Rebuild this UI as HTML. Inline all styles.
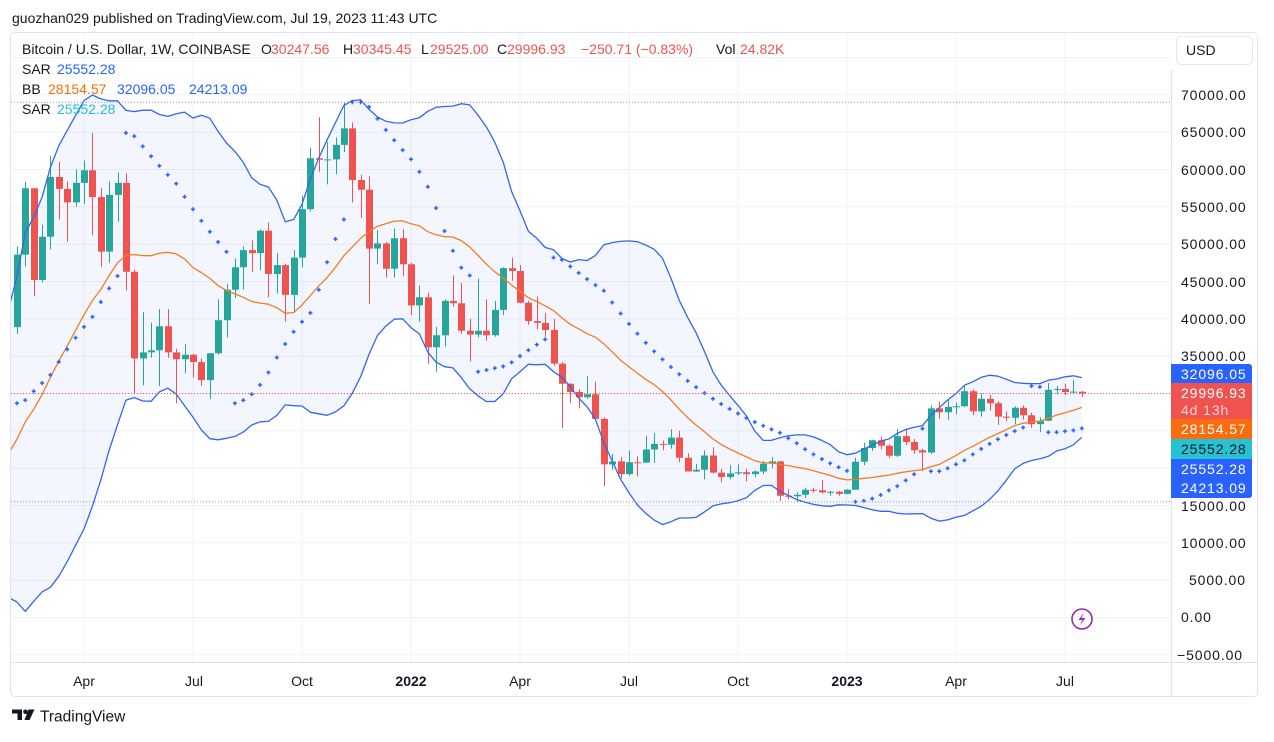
<!DOCTYPE html>
<html><head><meta charset="utf-8">
<style>
html,body{margin:0;padding:0;background:#fff;}
svg{display:block;font-family:"Liberation Sans",Arial,sans-serif;}
.pl{font-size:14px;fill:#131722;letter-spacing:0.9px;}
.tl{font-size:14px;fill:#131722;text-anchor:middle;}
.lg{font-size:14px;fill:#131722;}
.lb{font-size:14px;fill:#ffffff;letter-spacing:0.9px;}
</style></head>
<body>
<svg id="s" width="1274" height="742" viewBox="0 0 1274 742" xmlns="http://www.w3.org/2000/svg">
<rect width="1274" height="742" fill="#fff"/>
<text x="12" y="23" class="lg">guozhan029 published on TradingView.com, Jul 19, 2023 11:43 UTC</text>
<rect x="10.5" y="32.5" width="1247" height="664" rx="4" fill="none" stroke="#e0e3eb"/>
<g stroke="#eff1f5" stroke-width="1">
<path d="M11 57.5H1171M11 94.8H1171M11 132.2H1171M11 169.5H1171M11 206.8H1171M11 244.2H1171M11 281.5H1171M11 318.8H1171M11 356.2H1171M11 393.5H1171M11 430.8H1171M11 468.2H1171M11 505.5H1171M11 542.8H1171M11 580.2H1171M11 617.5H1171M11 654.8H1171"/>
<path d="M84 33V662M193 33V662M302 33V662M411 33V662M520 33V662M629 33V662M738 33V662M847 33V662M956 33V662M1065 33V662"/>
</g>
<clipPath id="c"><rect x="11" y="33" width="1160" height="629"/></clipPath>
<g clip-path="url(#c)">
<g id="fill"></g>
<g id="cand"></g>
<g id="ind"></g>
<g id="sar"></g>
</g>
<!-- dotted lines -->
<line x1="11" y1="102.3" x2="1171" y2="102.3" stroke="#9598a1" stroke-width="1" stroke-dasharray="1,2"/>
<line x1="11" y1="501.9" x2="1171" y2="501.9" stroke="#9598a1" stroke-width="1" stroke-dasharray="1,2"/>
<line x1="11" y1="393.5" x2="1171" y2="393.5" stroke="#ef5350" stroke-width="1" stroke-dasharray="1,2"/>
<!-- axes -->
<line x1="1171.5" y1="70" x2="1171.5" y2="697" stroke="#e0e3eb"/>
<line x1="11" y1="662.5" x2="1257" y2="662.5" stroke="#e0e3eb"/>
<!-- legend -->
<text y="54" class="lg"><tspan x="22">Bitcoin / U.S. Dollar, 1W, COINBASE</tspan><tspan x="261">O</tspan><tspan x="271" fill="#ef5350">30247.56</tspan><tspan x="343">H</tspan><tspan x="353" fill="#ef5350">30345.45</tspan><tspan x="421">L</tspan><tspan x="430" fill="#ef5350">29525.00</tspan><tspan x="497">C</tspan><tspan x="507" fill="#ef5350">29996.93</tspan><tspan x="581" fill="#ef5350">−250.71 (−0.83%)</tspan><tspan x="716">Vol</tspan><tspan x="740" fill="#ef5350">24.82K</tspan></text>
<text y="74" class="lg"><tspan x="22">SAR</tspan><tspan x="57" fill="#2962ff">25552.28</tspan></text>
<text y="94" class="lg"><tspan x="22">BB</tspan><tspan x="48" fill="#f57000">28154.57</tspan><tspan x="117" fill="#2962ff">32096.05</tspan><tspan x="189" fill="#2962ff">24213.09</tspan></text>
<text y="114" class="lg"><tspan x="22">SAR</tspan><tspan x="57" fill="#22c0d3">25552.28</tspan></text>
<!-- USD button -->
<rect x="1176.5" y="36.5" width="76" height="28" rx="5" fill="#fff" stroke="#e6e8ee"/>
<text x="1186" y="55" class="lg">USD</text>
<!-- price labels -->
<g class="pl">
<text x="1181" y="100">70000.00</text>
<text x="1181" y="137">65000.00</text>
<text x="1181" y="175">60000.00</text>
<text x="1181" y="212">55000.00</text>
<text x="1181" y="249">50000.00</text>
<text x="1181" y="287">45000.00</text>
<text x="1181" y="324">40000.00</text>
<text x="1181" y="361">35000.00</text>
<text x="1181" y="511">15000.00</text>
<text x="1181" y="548">10000.00</text>
<text x="1189" y="585">5000.00</text>
<text x="1181" y="622">0.00</text>
<text x="1177" y="660">−5000.00</text>
</g>
<!-- colored labels -->
<path d="M1171 364H1249a3 3 0 0 1 3 3V383H1171Z" fill="#2962ff"/>
<rect x="1171" y="383" width="81" height="36" fill="#ef5350"/>
<rect x="1171" y="419" width="81" height="20" fill="#fb6c0e"/>
<rect x="1171" y="439" width="81" height="20" fill="#25c2d4"/>
<rect x="1171" y="459" width="81" height="20" fill="#2962ff"/>
<path d="M1171 479H1252V495a3 3 0 0 1 -3 3H1171Z" fill="#2962ff"/>
<text x="1181" y="379" class="lb">32096.05</text>
<text x="1181" y="398" class="lb">29996.93</text>
<text x="1181" y="415" class="lb" fill-opacity="0.75">4d 13h</text>
<text x="1181" y="434" class="lb">28154.57</text>
<text x="1181" y="454" class="lb" style="fill:#131722">25552.28</text>
<text x="1181" y="474" class="lb">25552.28</text>
<text x="1181" y="493" class="lb">24213.09</text>
<!-- time labels -->
<text x="84" y="686" class="tl">Apr</text>
<text x="194" y="686" class="tl">Jul</text>
<text x="302" y="686" class="tl">Oct</text>
<text x="411" y="686" class="tl" font-weight="bold">2022</text>
<text x="520" y="686" class="tl">Apr</text>
<text x="629" y="686" class="tl">Jul</text>
<text x="738" y="686" class="tl">Oct</text>
<text x="847" y="686" class="tl" font-weight="bold">2023</text>
<text x="956" y="686" class="tl">Apr</text>
<text x="1065" y="686" class="tl">Jul</text>
<!-- lightning icon -->
<circle cx="1082" cy="619" r="10" fill="#fff" stroke="#9c27b0" stroke-width="1.6"/>
<path d="M1084 612.5L1078.5 620H1082.5L1080 625.5L1085.5 618H1081.5Z" fill="#9c27b0"/>
<!-- logo -->
<path d="M12 709.5H22V720H17.5V713.5H12Z" fill="#131722"/>
<circle cx="25.5" cy="711.8" r="2.3" fill="#131722"/>
<path d="M28.5 709.5H34.5L29.5 720H24.5Z" fill="#131722"/>
<text x="40" y="721.5" font-size="15.5" fill="#131722">TradingView</text>
</svg>
<script>
(function(){
var P=[10770,10670,11380,11500,13030,13740,15480,15960,18400,18190,19360,19270,23850,26270,33000,38150,36020,32260,33110];
var B=[
[33100,40950,32300,38880],
[38886,49707,37988,48600],[48600,58350,47000,57500],[57500,57500,43000,45200],[45200,52600,44900,51000],
[51000,61800,49300,59000],[59000,61000,53300,57400],[57400,58400,50300,55600],[55600,60000,55000,58200],
[58200,61200,55400,59900],[59900,64900,51200,56300],[56300,57500,47000,49000],[49000,58400,47500,56600],
[56600,59600,53000,58200],[58200,59500,43800,46300],[46300,46600,30000,34700],[34700,40900,31100,35500],
[35500,39500,34800,35800],[35800,41300,31000,39000],[39000,41300,34800,35500],[35500,36000,28700,34600],
[34600,36600,32700,35200],[35200,35300,32100,34200],[34200,34700,31000,31800],[31800,35400,29300,35400],
[35400,42600,35200,39800],[39800,44700,37500,43900],[43900,48100,42800,46900],[46900,49700,43900,49200],
[49200,50500,46300,48800],[48800,52000,46500,51800],[51800,52900,42900,46000],[46000,48800,43400,47200],
[47200,47400,39600,43200],[43200,49200,40800,48200],[48200,56500,46900,54700],[54700,62900,54400,61500],
[61500,67000,59700,61300],[61300,63700,58000,61350],[61350,64300,59400,63300],[63300,69000,62300,65500],
[65500,66300,55600,58600],[58600,59300,53500,57300],[57300,59100,42000,49400],[49400,51900,47300,50100],
[50100,50300,45500,46700],[46700,52100,45500,50800],[50800,52000,45700,47300],
[47300,47500,40500,41800],[41800,44500,39600,42900],[42900,43500,34000,36200],[36200,38900,32900,37800],
[37800,42600,36300,42400],[42400,45800,41600,42100],[42100,44800,38000,38400],[38400,40000,34300,37900],
[37900,45400,37500,38400],[38400,42600,37100,37800],[37800,42400,37600,41200],[41200,46900,40500,46800],
[46800,48200,45100,46400],[46400,47200,42100,42150],[42150,42400,39200,39700],[39700,43000,38600,39450],
[39450,40800,37600,38500],[38500,40000,33700,34000],[34000,34200,25400,31300],[31300,31400,28700,30200],
[30200,30600,28000,29500],[29500,32300,29300,29900],[29900,31600,28900,26600],[26600,26800,17600,20500],
[20500,21900,19800,20900],[20900,21500,18600,19200],[19200,22400,19000,20800],[20800,21600,18900,20750],
[20750,24300,20700,22500],[22500,24700,20700,23250],[23250,23700,22400,23150],[23150,25200,22600,24100],
[24100,25000,20800,21400],[21400,22000,19800,19550],[19550,20600,19500,19800],[19800,22400,18500,21700],
[21700,22800,19300,19400],[19400,19900,18100,18800],[18800,20400,18500,19300],[19300,20500,19100,19450],
[19450,19900,18200,19200],[19200,19700,18800,19550],[19550,21000,19200,20600],[20600,21500,20000,20900],
[20900,21000,15600,16300],[16300,17200,15800,16250],[16250,16800,15500,16450],[16450,17400,16000,17100],
[17100,17400,16700,17050],[17050,18400,16600,16750],[16750,17000,16300,16850],[16850,16950,16300,16550],
[16550,17200,16500,17100],[17100,21400,17100,20850],[20850,23400,20400,22700],[22700,23800,22300,23750],
[23750,24200,22500,23000],[23000,23200,21400,21650],[21650,25200,21500,24300],[24300,25300,23100,23500],
[23500,23900,21900,22400],[22400,22600,19600,22100],[22100,28400,21900,28000],[28000,28900,26600,27500],
[27500,29200,26500,28200],[28200,28800,27200,28300],[28300,31000,28200,30300],[30300,30500,27100,27600],
[27600,30000,26900,29300],[29300,29800,27700,28700],[28700,29000,25800,26900],[26900,27600,26300,26750],
[26750,28300,25900,28100],[28100,28400,26500,27100],[27100,27400,25400,25900],[25900,26800,24800,26350],
[26350,31400,26300,30500],[30500,31000,29900,30600],[30600,31300,29800,30200],[30200,31800,29900,30250],
[30247.56,30345.45,29525,29996.93]
];
function X(k){return 16.9+8.385*(k-1);}
function Y(p){return 617.5-p*0.0074667;}
var n=B.length,C=P.slice(),i,k;
for(k=0;k<n;k++)C.push(B[k][3]);
var U=[],M=[],L=[];
for(k=0;k<n;k++){
 var s=0,j;for(j=k;j<k+20;j++)s+=C[j];var m=s/20,v=0;
 for(j=k;j<k+20;j++)v+=(C[j]-m)*(C[j]-m);var sd=Math.sqrt(v/20);
 M.push(m);U.push(m+2*sd);L.push(m-2*sd);
}
function pts(a){var r=[];for(var k=0;k<n;k++)r.push(X(k).toFixed(1)+","+Y(a[k]).toFixed(1));return r;}
var pu=pts(U),pl=pts(L),pm=pts(M);
var ns="http://www.w3.org/2000/svg";
function add(g,tag,at){var e=document.createElementNS(ns,tag);for(var a in at)e.setAttribute(a,at[a]);document.getElementById(g).appendChild(e);return e;}
add("fill","polygon",{points:pu.join(" ")+" "+pl.slice().reverse().join(" "),fill:"#2962ff","fill-opacity":"0.055"});
// candles
var gp="",rp="",gw="",rw="";
for(k=1;k<n;k++){
 var b=B[k],x=X(k),up=b[3]>=b[0];
 var xr=Math.round(x)+0.5;
 var t=Y(Math.max(b[0],b[3])),bo=Y(Math.min(b[0],b[3]));if(bo-t<1)bo=t+1;
 var w="M"+xr+" "+Y(b[1]).toFixed(1)+"V"+Y(b[2]).toFixed(1);
 var r="M"+(xr-3.5)+" "+t.toFixed(1)+"h7V"+bo.toFixed(1)+"h-7Z";
 if(up){gw+=w;gp+=r;}else{rw+=w;rp+=r;}
}
add("cand","path",{d:gw,stroke:"#26a69a","stroke-width":"1",fill:"none"});
add("cand","path",{d:rw,stroke:"#ef5350","stroke-width":"1",fill:"none"});
add("cand","path",{d:gp,fill:"#26a69a"});
add("cand","path",{d:rp,fill:"#ef5350"});
add("ind","polyline",{points:pu.join(" "),fill:"none",stroke:"#3566ea","stroke-width":"1.3","stroke-linejoin":"round"});
add("ind","polyline",{points:pl.join(" "),fill:"none",stroke:"#3566ea","stroke-width":"1.3","stroke-linejoin":"round"});
add("ind","polyline",{points:pm.join(" "),fill:"none",stroke:"#f57c1f","stroke-width":"1.3","stroke-linejoin":"round"});
// SAR
var H=[],Lo=[];for(k=0;k<n;k++){H.push(B[k][1]);Lo.push(B[k][2]);}
var upT=true,sar=28700,ep=H[1],af=0.02,S={};S[1]=sar;
for(k=2;k<n;k++){
 var sn=sar+af*(ep-sar);
 if(upT){
  sn=Math.min(sn,Lo[k-1],Lo[k-2]);
  if(Lo[k]<sn){upT=false;sn=ep;ep=Lo[k];af=0.02;}
  else if(H[k]>ep){ep=H[k];af=Math.min(af+0.02,0.2);}
 }else{
  sn=Math.max(sn,H[k-1],H[k-2]);
  if(H[k]>sn){upT=true;sn=ep;ep=H[k];af=0.02;}
  else if(Lo[k]<ep){ep=Lo[k];af=Math.min(af+0.02,0.2);}
 }
 sar=sn;S[k]=sn;
}
var sd="";
for(k=1;k<n;k++){var x=X(k),y=Y(S[k]);sd+="M"+(x-2).toFixed(1)+" "+y.toFixed(1)+"h4M"+x.toFixed(1)+" "+(y-2).toFixed(1)+"v4";}
add("sar","path",{d:sd,stroke:"#2962ff","stroke-width":"1.5",fill:"none"});
})();
</script>
</body></html>
